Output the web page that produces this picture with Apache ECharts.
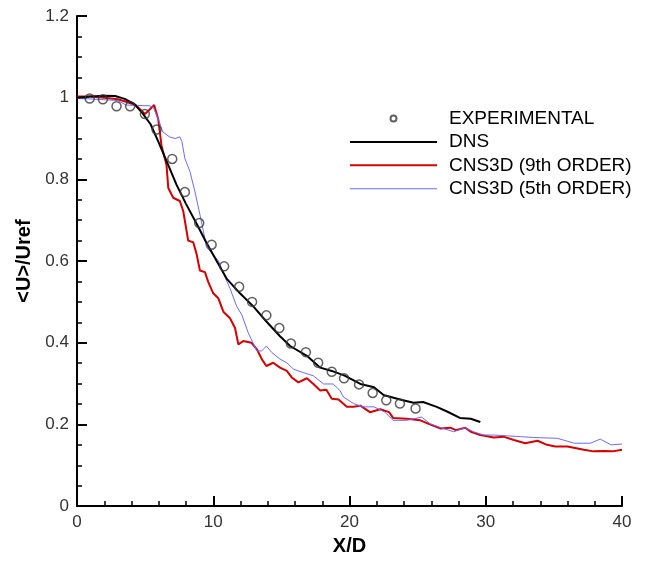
<!DOCTYPE html>
<html>
<head>
<meta charset="utf-8">
<script src="https://cdn.jsdelivr.net/npm/echarts@6/dist/echarts.min.js"></script>
<style>
html,body{margin:0;padding:0;background:#fff;}
#chart{width:647px;height:561px;}
</style>
</head>
<body>
<div id="chart"></div>
<script>
// ---- data ----
var expX = [0.93, 1.9, 2.9, 3.9, 4.98, 5.84, 6.99, 7.92, 8.97, 9.88, 10.8, 11.9, 12.85, 13.9, 14.85, 15.7, 16.8, 17.7, 18.7, 19.6, 20.7, 21.7, 22.7, 23.7, 24.85];
var expY = [0.998, 0.996, 0.979, 0.979, 0.96, 0.922, 0.85, 0.769, 0.693, 0.640, 0.587, 0.537, 0.50, 0.467, 0.436, 0.398, 0.377, 0.351, 0.329, 0.313, 0.298, 0.277, 0.259, 0.251, 0.239];

var dnsX = [0, 1, 2, 2.8, 3.5, 4.2, 4.8, 5.4, 6.0, 6.7, 7.3, 8.0, 8.8, 9.5, 10.25, 10.98, 11.96, 12.94, 13.9, 14.9, 15.64, 16.87, 17.85, 18.7, 19.6, 20.8, 21.8, 22.5, 23.7, 24.7, 25.4, 26.4, 27.2, 28.1, 28.9, 29.6];
var dnsY = [1.0, 1.003, 1.005, 1.004, 0.997, 0.985, 0.962, 0.935, 0.89, 0.835, 0.787, 0.74, 0.69, 0.645, 0.600, 0.557, 0.521, 0.489, 0.452, 0.416, 0.392, 0.368, 0.339, 0.331, 0.320, 0.299, 0.291, 0.272, 0.261, 0.253, 0.255, 0.243, 0.231, 0.216, 0.214, 0.206];

var cns9X = [0, 1, 2, 3, 3.6, 4.3, 4.98, 5.3, 5.66, 5.96, 6.2, 6.57, 6.7, 7.06, 7.55, 7.8, 8.16, 8.53, 8.78, 9.02, 9.39, 9.63, 10.0, 10.37, 10.74, 11.23, 11.6, 11.84, 12.2, 12.8, 13.2, 13.56, 13.9, 14.4, 14.9, 15.4, 15.76, 16.25, 16.87, 17.35, 17.85, 18.3, 18.7, 19.2, 19.8, 20.3, 20.8, 21.5, 22.26, 22.9, 23.2, 24.2, 25.2, 25.9, 26.7, 27.4, 27.8, 28.5, 28.9, 29.6, 30.6, 31.3, 32.06, 32.9, 33.8, 34.5, 35.1, 36.0, 37.2, 37.9, 38.7, 39.3, 40];
var cns9Y = [1.003, 1.003, 1.0, 0.996, 0.99, 0.982, 0.96, 0.97, 0.982, 0.948, 0.883, 0.835, 0.779, 0.755, 0.747, 0.722, 0.650, 0.646, 0.617, 0.577, 0.573, 0.549, 0.521, 0.509, 0.476, 0.460, 0.436, 0.396, 0.404, 0.400, 0.384, 0.360, 0.343, 0.351, 0.339, 0.331, 0.315, 0.303, 0.313, 0.299, 0.283, 0.285, 0.263, 0.261, 0.243, 0.243, 0.246, 0.230, 0.237, 0.230, 0.216, 0.214, 0.210, 0.200, 0.190, 0.192, 0.186, 0.192, 0.182, 0.174, 0.168, 0.170, 0.162, 0.154, 0.160, 0.150, 0.146, 0.146, 0.138, 0.134, 0.135, 0.134, 0.138];

var cns5X = [0, 1, 2, 3, 3.6, 4.5, 5.35, 5.6, 5.96, 6.3, 6.8, 7.2, 7.55, 7.7, 7.92, 8.29, 8.65, 9.02, 9.27, 9.5, 9.88, 10.37, 10.86, 11.23, 11.72, 12.1, 12.57, 13.2, 13.56, 13.9, 14.3, 14.9, 15.4, 15.9, 16.6, 17.35, 18.1, 18.8, 19.3, 19.56, 20.3, 21.0, 21.8, 22.6, 23.2, 24.2, 25.3, 25.9, 26.7, 27.65, 28.5, 29.1, 29.85, 30.6, 31.6, 32.55, 33.5, 35.25, 36.5, 37.7, 38.4, 39.2, 40];
var cns5Y = [0.998, 0.997, 0.995, 0.993, 0.982, 0.981, 0.980, 0.976, 0.948, 0.916, 0.904, 0.900, 0.904, 0.892, 0.851, 0.819, 0.771, 0.714, 0.674, 0.634, 0.620, 0.601, 0.561, 0.533, 0.489, 0.468, 0.424, 0.380, 0.380, 0.392, 0.376, 0.360, 0.351, 0.335, 0.327, 0.319, 0.299, 0.299, 0.283, 0.267, 0.251, 0.243, 0.243, 0.230, 0.210, 0.210, 0.218, 0.202, 0.192, 0.182, 0.192, 0.182, 0.174, 0.174, 0.172, 0.170, 0.168, 0.166, 0.154, 0.154, 0.164, 0.150, 0.152];

var seriesNames = ['EXPERIMENTAL', 'DNS', 'CNS3D (9th ORDER)', 'CNS3D (5th ORDER)'];
var xTickLabels = ['0', '10', '20', '30', '40'];

function zip(xs, ys) { return xs.map(function (x, i) { return [x, ys[i]]; }); }

var FONT = 'Liberation Sans, Arial, sans-serif';
var thickLine = 'path://M0,0L87,0L87,2L0,2Z';
var thinLine = 'path://M0,0L87,0L87,1L0,1Z';
var chart = echarts.init(document.getElementById('chart'), null, {renderer: 'canvas'});
chart.setOption({
  animation: false,
  backgroundColor: '#ffffff',
  grid: {left: 77, right: 25, top: 16, bottom: 49, containLabel: false},
  legend: {
    orient: 'vertical',
    left: 345,
    top: 102,
    itemWidth: 87,
    itemHeight: 6,
    itemGap: 0.4,
    symbolKeepAspect: true,
    data: [
      {name: seriesNames[0], icon: 'circle'},
      {name: seriesNames[1], icon: thickLine},
      {name: seriesNames[2], icon: thickLine},
      {name: seriesNames[3], icon: thinLine}
    ],
    textStyle: {fontFamily: FONT, fontSize: 19, color: '#000', lineHeight: 23, padding: [0, 0, 0, 7]}
  },
  xAxis: {
    type: 'value', min: 0, max: 40, interval: 10,
    name: 'X/D', nameLocation: 'middle', nameGap: 26,
    nameTextStyle: {fontFamily: FONT, fontSize: 20, fontWeight: 'bold', color: '#000'},
    axisLine: {show: true, lineStyle: {color: '#000', width: 2}},
    axisTick: {show: true, inside: true, length: 10, lineStyle: {color: '#000', width: 2}},
    minorTick: {show: true, splitNumber: 5, length: 5, lineStyle: {color: '#000', width: 1.5}},
    splitLine: {show: false},
    axisLabel: {fontFamily: FONT, fontSize: 17, color: '#333', margin: 8,
      formatter: function (v) { return xTickLabels[Math.round(v / 10)]; }}
  },
  yAxis: {
    type: 'value', min: 0, max: 1.2, interval: 0.2,
    name: '<U>/Uref', nameLocation: 'middle', nameGap: 40, nameRotate: 90,
    nameTextStyle: {fontFamily: FONT, fontSize: 20, fontWeight: 'bold', color: '#000'},
    axisLine: {show: true, lineStyle: {color: '#000', width: 2}},
    axisTick: {show: true, inside: true, length: 10, lineStyle: {color: '#000', width: 2}},
    minorTick: {show: true, splitNumber: 4, length: 5, lineStyle: {color: '#000', width: 1.5}},
    splitLine: {show: false},
    axisLabel: {fontFamily: FONT, fontSize: 17, color: '#333', margin: 8}
  },
  series: [
    {
      name: seriesNames[1], type: 'line', data: zip(dnsX, dnsY), showSymbol: false, symbol: 'none',
      lineStyle: {color: '#000000', width: 2}, itemStyle: {color: '#000000'}, z: 3
    },
    {
      name: seriesNames[2], type: 'line', data: zip(cns9X, cns9Y), showSymbol: false, symbol: 'none',
      lineStyle: {color: '#d40000', width: 2}, itemStyle: {color: '#d40000'}, z: 2
    },
    {
      name: seriesNames[3], type: 'line', data: zip(cns5X, cns5Y), showSymbol: false, symbol: 'none',
      lineStyle: {color: '#6b6bff', width: 1}, itemStyle: {color: '#6b6bff'}, z: 2
    },
    {
      name: seriesNames[0], type: 'scatter', data: zip(expX, expY), symbol: 'circle', symbolSize: 9,
      itemStyle: {color: 'rgba(255,255,255,0)', borderColor: '#3a3a3a', borderWidth: 1.5}, z: 4
    }
  ]
});
</script>
</body>
</html>
